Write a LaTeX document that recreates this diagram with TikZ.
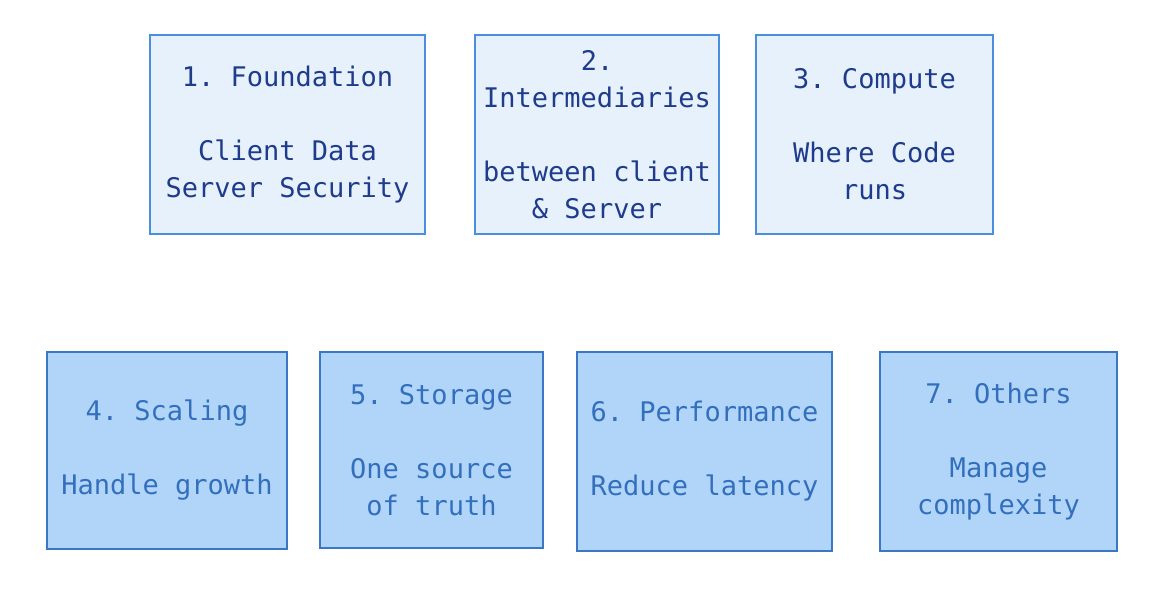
\documentclass[tikz,border=0pt]{standalone}
\usepackage{fontspec}
\setmonofont{DejaVu Sans Mono}
\usepackage{xcolor}
\usetikzlibrary{positioning}
\definecolor{PaleSky}{HTML}{E6F1FC}
\definecolor{SkyEdge}{HTML}{4A8EE0}
\definecolor{Navy}{HTML}{1F3C8C}
\definecolor{Sky}{HTML}{B0D5F9}
\definecolor{DeepEdge}{HTML}{3A77C4}
\definecolor{MidBlue}{HTML}{346FBE}
\tikzset{
  topbox/.style={
    draw=SkyEdge,line width=2pt,fill=PaleSky,text=Navy,
    align=center,inner sep=0pt,
    font=\ttfamily\fontsize{27}{37}\selectfont
  },
  lowbox/.style={
    draw=DeepEdge,line width=2pt,fill=Sky,text=MidBlue,
    align=center,inner sep=0pt,
    font=\ttfamily\fontsize{27}{37}\selectfont
  }
}
\begin{document}
\begin{tikzpicture}[x=1pt,y=-1pt]
  \useasboundingbox[fill=white] (0,0) rectangle (1174,602);
  % top row
  \node[topbox,minimum width=275pt,minimum height=199pt] (found) at (287.5,134.5)
    {1. Foundation\\[37pt]Client Data\\Server Security};
  \node[topbox,minimum width=244pt,minimum height=199pt] (inter) at (597,134.5)
    {2.\\Intermediaries\\[37pt]between client\\\& Server};
  \node[topbox,minimum width=237pt,minimum height=199pt] (comp) at (874.5,134.5)
    {3. Compute\\[37pt]Where Code\\runs};
  % bottom row
  \node[lowbox,minimum width=240pt,minimum height=197pt] (scale) at (167,450.5)
    {4. Scaling\\[37pt]Handle growth};
  \node[lowbox,minimum width=223pt,minimum height=196pt] (store) at (431.5,450)
    {5. Storage\\[37pt]One source\\of truth};
  \node[lowbox,minimum width=255pt,minimum height=199pt] (perf) at (704.5,451.5)
    {6. Performance\\[37pt]Reduce latency};
  \node[lowbox,minimum width=237pt,minimum height=199pt] (other) at (998.5,451.5)
    {7. Others\\[37pt]Manage\\complexity};
\end{tikzpicture}
\end{document}
